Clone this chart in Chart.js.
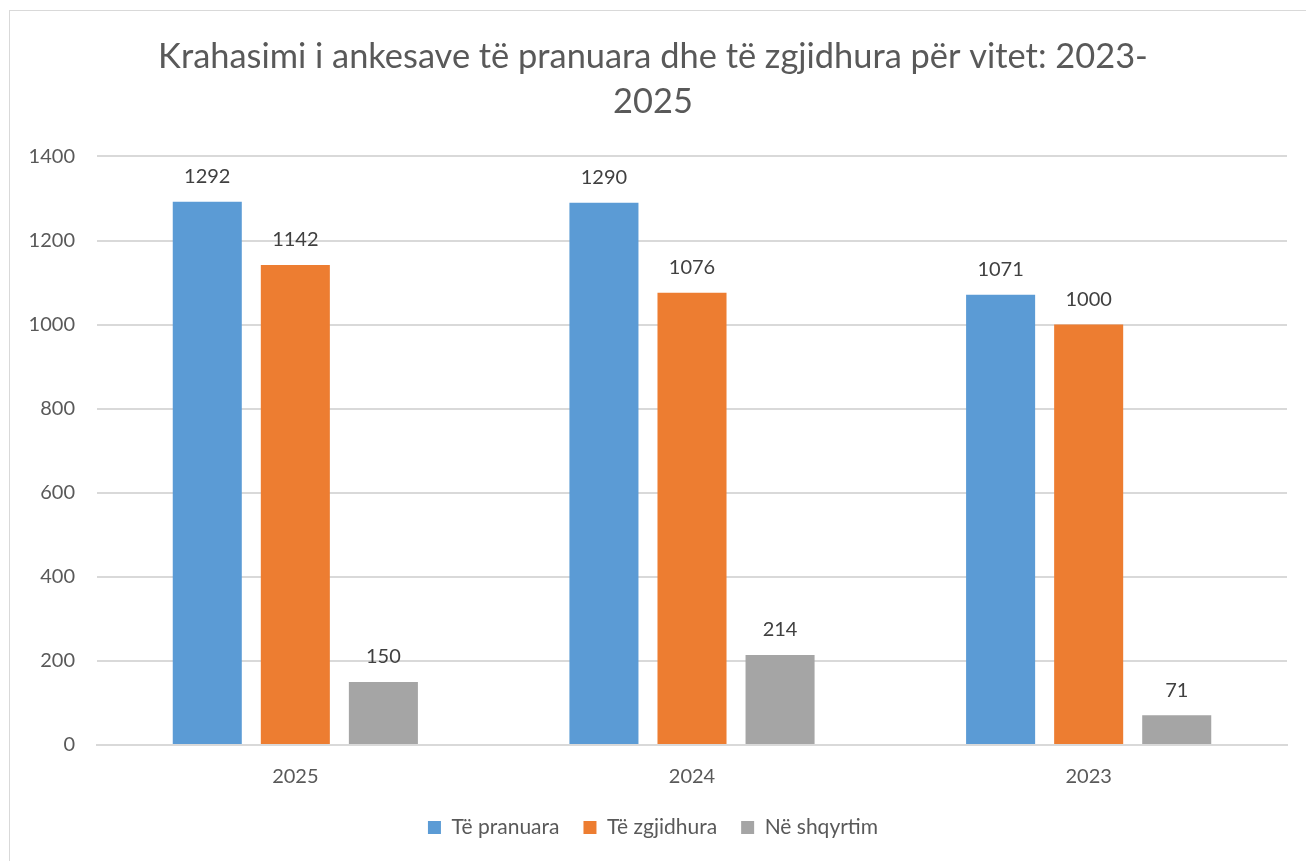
<!DOCTYPE html>
<html>
<head>
<meta charset="utf-8">
<script src="https://cdn.jsdelivr.net/npm/chart.js@4"></script>
<style>
html,body{margin:0;padding:0;background:#fff;overflow:hidden}
#frame{position:absolute;left:9px;top:10px;width:1310px;height:870px;border:1px solid #d9d9d9;box-sizing:border-box}
#wrap{position:absolute;left:0;top:0;width:1306px;height:861px}
</style>
</head>
<body>
<div id="frame"></div>
<div id="wrap"><canvas id="c"></canvas></div>
<script>
const years=['2025','2024','2023']
const pranuara=[1292,1290,1071]
const zgjidhura=[1142,1076,1000]
const shqyrtim=[150,214,71]
const titleLines=['Krahasimi i ankesave të pranuara dhe të zgjidhura për vitet: 2023-','2025']

const fam='Lato, "Noto Sans", sans-serif'

const valueLabels={
  id:'valueLabels',
  afterDatasetsDraw(chart){
    const ctx=chart.ctx
    ctx.save()
    ctx.font='20px '+fam
    ctx.fillStyle='#404040'
    ctx.textAlign='center'
    ctx.textBaseline='middle'
    chart.data.datasets.forEach((ds,i)=>{
      chart.getDatasetMeta(i).data.forEach((bar,j)=>{
        ctx.fillText(String(ds.data[j]),bar.x,bar.y-25)
      })
    })
    ctx.restore()
  }
}

new Chart(document.getElementById('c'),{
  type:'bar',
  data:{labels:years,datasets:[
    {label:'Të pranuara',data:pranuara,backgroundColor:'#5B9BD5'},
    {label:'Të zgjidhura',data:zgjidhura,backgroundColor:'#ED7D31'},
    {label:'Në shqyrtim',data:shqyrtim,backgroundColor:'#A5A5A5'}
  ]},
  options:{
    responsive:true,maintainAspectRatio:false,animation:false,
    categoryPercentage:0.666,barPercentage:0.784,
    layout:{padding:{left:19,right:19,top:0,bottom:13}},
    plugins:{
      title:{display:true,text:titleLines,color:'#595959',font:{family:fam,size:34.4,weight:'normal',lineHeight:1.3},padding:{top:35,bottom:32}},
      legend:{position:'bottom',labels:{color:'#595959',font:{family:fam,size:21},boxWidth:13,boxHeight:13,padding:24}},
      tooltip:{enabled:false}
    },
    scales:{
      x:{grid:{display:false},border:{color:'#d9d9d9',width:2},
        ticks:{color:'#595959',font:{family:fam,size:20},padding:12},
        afterFit(s){s.height=48}},
      y:{min:0,max:1400,
        ticks:{stepSize:200,color:'#595959',font:{family:fam,size:20},padding:22,callback:v=>String(v)},
        grid:{color:'#d9d9d9',lineWidth:2,drawTicks:false},
        border:{display:false},
        afterFit(s){s.width=78}}
    }
  },
  plugins:[valueLabels]
})
</script>
</body>
</html>
